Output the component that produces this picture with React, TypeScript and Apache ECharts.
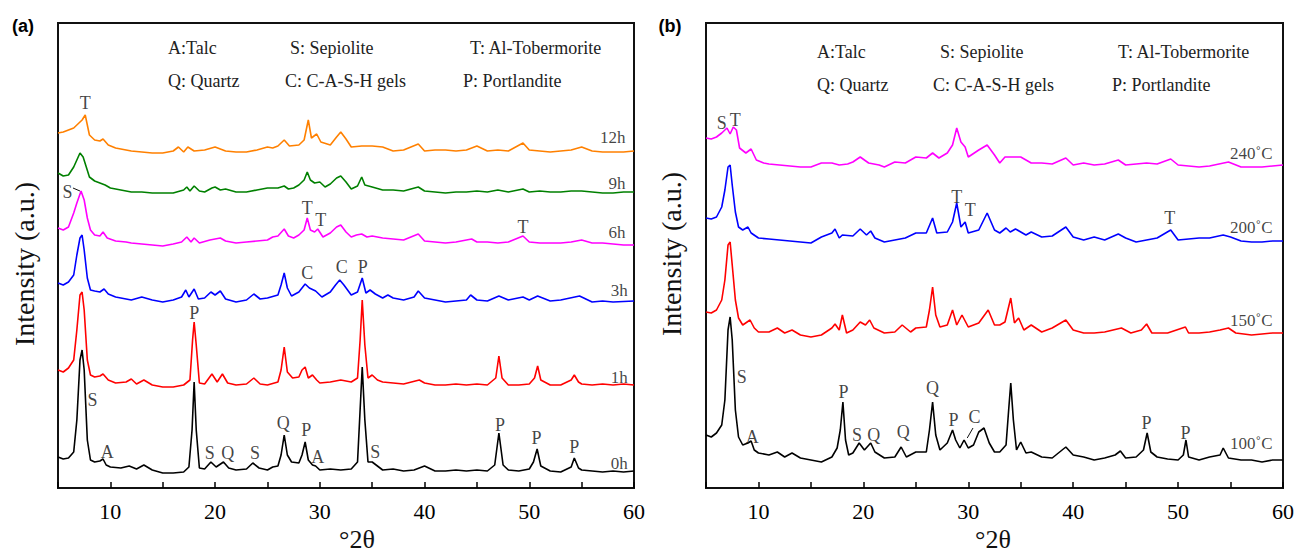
import React, { useEffect, useRef } from "react";
import * as echarts from "echarts";

// ---------- Panel (a): intensity (a.u., stacked with offsets) vs 2θ ----------
const A_0H: number[][] = [[5,31],[5.5,29],[6,30],[6.5,36],[6.8,68],[7.1,128],[7.3,138],[7.5,118],[7.8,48],[8.1,28],[8.5,26],[9,27],[9.3,29],[9.6,23],[10,21],[11,20],[11.8,22],[12.5,19],[13.2,23],[14,18],[15,15],[16,15],[17,16],[17.5,21],[17.8,58],[18,106],[18.2,58],[18.5,20],[19,19],[19.6,26],[20.1,21],[20.8,26],[21.3,20],[22,18],[23,19],[23.6,25],[24.2,20],[25,18],[25.5,21],[26,22],[26.3,33],[26.6,53],[26.9,33],[27.3,26],[28,25],[28.3,33],[28.6,46],[28.9,28],[29.3,23],[29.6,22],[30,18],[31,19],[32,18],[33,19],[33.6,26],[33.8,68],[34.05,121],[34.3,68],[34.6,26],[35,26],[35.5,22],[36,18],[37,19],[38,17],[39,18],[40,22],[41,17],[42,17],[43,18],[44,17],[45,18],[46,17],[46.7,23],[47.1,55],[47.5,23],[48,18],[49,17],[50,19],[50.4,26],[50.75,39],[51.1,22],[52,17],[53,16],[54,21],[54.3,30],[54.7,20],[55,18],[56,17],[57,16],[58,17],[59,16],[60,17]];
const A_1H: number[][] = [[5,118],[5.5,116],[6,120],[6.5,128],[6.8,158],[7.1,193],[7.3,196],[7.5,178],[7.8,128],[8.1,113],[8.5,111],[9,112],[9.3,114],[9.8,108],[10.5,105],[11.5,106],[12,109],[12.5,104],[13.2,108],[14,103],[15,101],[16,101],[17,103],[17.6,108],[17.85,148],[18,166],[18.2,143],[18.5,105],[19,104],[19.7,114],[20.2,106],[20.7,114],[21.2,105],[22,103],[23,104],[23.7,110],[24.3,104],[25,103],[26,106],[26.3,118],[26.6,141],[26.9,116],[27.4,110],[28,111],[28.3,118],[28.6,121],[28.9,110],[29.3,113],[29.7,108],[30,105],[31,106],[32,108],[33,106],[33.6,110],[33.85,148],[34.05,188],[34.3,143],[34.6,110],[35,113],[35.5,108],[36,106],[37,105],[38,104],[39.5,108],[40,105],[41,103],[42,103],[43,104],[44,103],[45,104],[46,103],[46.8,110],[47.1,132],[47.4,110],[48,103],[49,103],[50,104],[50.5,110],[50.8,122],[51.1,108],[52,103],[53,103],[54,108],[54.3,113],[54.7,106],[55,104],[56,103],[57,104],[58,103],[59,104],[60,103]];
const A_3H: number[][] = [[5,205],[5.5,203],[6,206],[6.5,213],[6.8,233],[7.1,250],[7.3,253],[7.5,238],[7.8,210],[8.1,198],[8.5,197],[9,196],[9.4,199],[9.8,194],[10.5,191],[11,190],[12,188],[13,191],[14,188],[15,186],[16,188],[16.8,191],[17.2,198],[17.5,191],[18,199],[18.4,189],[19,190],[19.6,196],[20,193],[20.5,197],[21,189],[22,186],[23,188],[23.7,194],[24.3,189],[25,190],[26,193],[26.3,203],[26.6,215],[26.9,200],[27.3,192],[28,196],[28.6,204],[29,200],[29.6,197],[30.2,191],[31,196],[31.5,203],[31.9,208],[32.3,203],[33,193],[33.6,196],[34.05,210],[34.4,195],[34.8,198],[35.3,194],[36,190],[36.5,193],[37,190],[38,188],[39,191],[39.4,197],[40,190],[41,188],[42,186],[43,187],[44,188],[44.4,193],[45,188],[46,187],[47.1,192],[48,188],[49.4,191],[50,188],[50.8,192],[52,187],[53,188],[54.8,192],[56,186],[57,187],[58,186],[60,187]];
const A_6H: number[][] = [[5,260],[5.5,258],[6,261],[6.5,275],[6.8,285],[7.2,297],[7.5,288],[7.8,270],[8.1,258],[8.5,253],[9,252],[9.3,256],[9.7,250],[10.5,247],[11.5,246],[12,245],[13,244],[14,243],[15,242],[16,244],[16.8,246],[17.3,251],[17.7,246],[18,250],[18.5,245],[19.5,248],[20,249],[20.5,250],[21,247],[22,245],[23,246],[24,247],[25,248],[25.5,251],[26,252],[26.6,259],[27,252],[27.5,250],[28,253],[28.5,258],[28.8,270],[29.1,258],[29.5,256],[29.8,259],[30.3,251],[31,255],[31.6,261],[32,263],[32.5,256],[33,251],[33.5,253],[34,254],[34.5,251],[35,252],[36,250],[37,249],[38,248],[39.4,254],[40,247],[41,246],[42,245],[43,246],[44.5,249],[45,246],[46,246],[47,245],[48,246],[49.4,252],[50,246],[51,245],[52,245],[53,245],[54,246],[55,248],[56,245],[57,245],[58,244],[59,243],[60,243]];
const A_9H: number[][] = [[5,315],[5.5,312],[6,313],[6.5,321],[6.8,328],[7.1,335],[7.4,331],[7.7,321],[8,311],[8.5,307],[9,305],[9.5,303],[10,300],[11,298],[12,296],[13,296],[14,295],[15,295],[16,295],[17,298],[17.3,301],[17.6,297],[18,302],[18.5,297],[19,296],[19.7,300],[20,301],[20.5,298],[21,299],[22,296],[23,296],[24,298],[25,300],[26,300],[26.6,302],[27,299],[27.5,300],[28,303],[28.5,308],[28.8,316],[29.1,308],[29.5,305],[30,306],[30.5,301],[31,304],[31.6,310],[32,312],[32.5,306],[33,299],[33.6,302],[34,311],[34.3,303],[35,301],[36,298],[37,298],[38,297],[39.4,301],[40,297],[41,296],[42,295],[43,296],[44,296],[45,297],[46,296],[47,298],[48,296],[49.4,299],[50,296],[51,297],[52,296],[53,296],[54,297],[55,297],[56,296],[57,295],[58,295],[59,296],[60,296]];
const A_12H: number[][] = [[5,355],[5.5,356],[6,358],[6.5,360],[7,365],[7.3,368],[7.6,373],[7.8,363],[8,353],[8.5,348],[9,347],[9.3,349],[9.8,343],[10.5,340],[11.5,338],[12,337],[13,336],[14,335],[15,335],[16,337],[16.5,341],[17,336],[17.4,341],[18,337],[19,338],[20,341],[21,337],[22,336],[23,336],[24,338],[25,341],[25.5,340],[26,342],[26.6,348],[27.1,342],[28,343],[28.5,348],[28.9,368],[29.2,350],[29.7,354],[30.1,346],[31,343],[31.6,351],[32,356],[32.5,349],[33,341],[34,342],[35,342],[36,341],[37,337],[38,338],[39.4,344],[40,337],[41,338],[42,338],[43,337],[44,338],[45,342],[46,337],[47,338],[48,337],[49.4,345],[50,338],[51,337],[52,336],[53,337],[54,338],[55,341],[56,337],[57,336],[58,336],[59,336],[60,337]];

// ---------- Panel (b) ----------
const B_100: number[][] = [[5,53],[5.5,51],[6,55],[6.5,63],[6.8,88],[7.1,158],[7.3,171],[7.5,148],[7.8,78],[8.1,51],[8.5,43],[9,45],[9.3,47],[9.6,38],[10,35],[11,33],[11.8,36],[12.5,31],[13.2,35],[14,30],[15,28],[16,26],[17,31],[17.5,40],[17.8,58],[18.05,86],[18.3,48],[18.6,33],[19,35],[19.6,45],[20.1,38],[20.7,45],[21.1,36],[22,30],[23,31],[23.6,41],[24.1,31],[25,36],[26,36],[26.3,58],[26.6,86],[26.9,53],[27.3,38],[28,45],[28.5,58],[28.8,48],[29.2,40],[29.6,48],[30,40],[30.5,43],[31,56],[31.5,60],[32,45],[32.5,36],[33,36],[33.6,43],[33.85,78],[34.05,105],[34.3,68],[34.6,38],[35,46],[35.5,35],[36,36],[37,31],[38,30],[39.3,41],[40,33],[41,31],[42,28],[43,30],[44,33],[44.5,37],[45,30],[46,31],[46.7,38],[47.05,55],[47.4,36],[48,31],[49,29],[50,28],[50.5,33],[50.75,48],[51,31],[52,28],[53,31],[54,33],[54.3,40],[54.8,30],[56,28],[57,28],[58,26],[59,28],[60,28]];
const B_150: number[][] = [[5,176],[5.5,175],[6,178],[6.5,188],[6.8,208],[7.1,243],[7.3,246],[7.5,223],[7.8,188],[8.1,170],[8.5,163],[9.2,168],[9.6,160],[10,156],[11,156],[11.8,160],[12.5,155],[13.2,158],[14,153],[15,151],[16,153],[17,160],[17.3,164],[17.7,158],[18,173],[18.4,155],[19,158],[19.7,166],[20.2,163],[20.6,168],[21,160],[22,155],[23,156],[23.7,163],[24.5,156],[25,160],[26,161],[26.3,178],[26.6,201],[26.9,173],[27.3,161],[28,163],[28.5,178],[28.9,163],[29.4,173],[30,161],[31,165],[31.9,178],[32.5,163],[33,163],[33.5,166],[34.05,190],[34.4,165],[34.8,170],[35.3,158],[36,163],[37,156],[38,160],[39.3,168],[40,158],[41,155],[42,155],[43,156],[44.6,160],[45.5,155],[46.5,158],[47,164],[47.5,155],[49,155],[50.7,161],[51,155],[52,155],[53,156],[54,158],[54.8,160],[55.5,155],[57,153],[58,154],[59,155],[60,155]];
const B_200: number[][] = [[5,270],[5.5,269],[6,271],[6.5,281],[6.8,298],[7.1,321],[7.3,323],[7.5,303],[7.8,276],[8.1,261],[8.5,258],[9,261],[9.3,255],[10,250],[11,249],[12,248],[13,247],[14,246],[15,245],[16,251],[17,255],[17.3,259],[17.7,250],[18,253],[19,252],[19.7,259],[20.3,253],[20.7,257],[21.1,250],[22,246],[23,248],[24,250],[25,255],[26,255],[26.6,270],[27,255],[28,256],[28.5,266],[28.9,285],[29.3,261],[29.7,266],[30,255],[31,258],[31.8,275],[32.5,258],[33,255],[33.6,260],[34,256],[34.5,259],[35.5,253],[36,256],[37,251],[38,252],[39.3,261],[40,251],[41,248],[42,251],[43,248],[44.3,254],[45,250],[46,246],[47,248],[48,250],[49.3,258],[50,248],[51,249],[52,250],[53,250],[54.3,253],[55,251],[56,247],[57,246],[58,246],[59,247],[60,247]];
const B_240: number[][] = [[5,350],[5.5,349],[6,351],[6.5,355],[7,360],[7.3,354],[7.6,361],[7.9,358],[8.2,340],[8.8,335],[9.3,339],[9.8,328],[10.5,325],[11,324],[12,323],[13,322],[14,321],[15,321],[16,325],[17,325],[17.7,323],[18.5,324],[19,326],[19.7,331],[20.5,325],[21.5,323],[22,321],[23,326],[24,325],[25,331],[26,330],[26.6,335],[27.2,330],[28,335],[28.5,343],[28.9,360],[29.3,346],[29.7,341],[30,331],[31,338],[31.8,343],[32.5,333],[33,325],[33.5,331],[34,331],[35,331],[36,325],[37,325],[38,324],[39.3,330],[40,323],[41,325],[42,323],[43,324],[44.3,328],[45,323],[46,324],[47,325],[48,324],[49.3,329],[50,323],[51,322],[52,321],[53,322],[54.8,326],[56,321],[57,321],[58,321],[59,322],[60,323]];

// annotations [2θ, height, text]
const A_PEAK_LABELS: (number | string)[][] = [
  [7.6, 385, "T"], [5.9, 296, "S"], [28.8, 280, "T"], [30.1, 268, "T"], [49.4, 261, "T"],
  [28.8, 215, "C"], [32.1, 221, "C"], [34.1, 221, "P"], [18.0, 175, "P"],
  [8.3, 88, "S"], [9.7, 36, "A"], [19.5, 35, "S"], [21.2, 35, "Q"], [23.8, 35, "S"],
  [26.5, 65, "Q"], [28.7, 58, "P"], [29.8, 31, "A"], [35.3, 36, "S"],
  [47.2, 63, "P"], [50.7, 50, "P"], [54.3, 41, "P"],
];
const A_SERIES_LABELS: (number | string)[][] = [
  [59.2, 351, "12h"], [59.2, 305, "9h"], [59.2, 256, "6h"], [59.4, 198, "3h"], [59.4, 111, "1h"], [59.4, 25, "0h"],
];
const B_PEAK_LABELS: (number | string)[][] = [
  [6.5, 365, "S"], [7.8, 368, "T"], [28.9, 291, "T"], [30.2, 278, "T"], [49.2, 270, "T"],
  [8.4, 111, "S"], [9.4, 51, "A"], [18.1, 96, "P"], [19.4, 53, "S"], [21.0, 53, "Q"],
  [23.8, 56, "Q"], [26.6, 100, "Q"], [28.6, 68, "P"], [30.6, 71, "C"], [47.0, 65, "P"], [50.7, 55, "P"],
];
const B_SERIES_LABELS: (number | string)[][] = [
  [59.0, 335, "240˚C"], [59.0, 261, "200˚C"], [59.0, 168, "150˚C"], [59.0, 45, "100˚C"],
];
const A_LEADER: number[][] = [[6.43, 300], [7.1, 297]];
const B_LEADER: number[][] = [[30.45, 60], [29.9, 50]];

const LEGEND_ROW1 = ["A:Talc", "S: Sepiolite", "T: Al-Tobermorite"];
const LEGEND_ROW2 = ["Q: Quartz", "C: C-A-S-H gels", "P: Portlandite"];

const SERIF = "'Liberation Serif', 'Times New Roman', serif";

export default function App() {
  const ref = useRef<HTMLDivElement>(null);
  useEffect(() => {
    document.body.style.margin = "0";
    const chart = echarts.init(ref.current!, undefined, { renderer: "svg" });

    const xAxis = (gridIndex: number) => ({
      type: "value", gridIndex, min: 5, max: 60, interval: 5,
      axisLine: { show: false },
      axisTick: { inside: true, length: 6, lineStyle: { color: "#000", width: 1.5 } },
      axisLabel: {
        formatter: (v: number) => (v % 10 === 0 ? String(v) : ""),
        fontFamily: SERIF, fontSize: 22, color: "#000", margin: 12,
      },
      splitLine: { show: false },
    });
    const yAxis = (gridIndex: number) => ({ type: "value", gridIndex, min: 0, max: 465, show: false });

    const line = (data: number[][], color: string, idx: number) => ({
      type: "line", data, xAxisIndex: idx, yAxisIndex: idx, showSymbol: false, symbol: "none",
      lineStyle: { color, width: 1.6 }, silent: true, z: 2,
    });
    const labels = (data: (number | string)[][], idx: number, align: string, fontSize: number) => ({
      type: "scatter", data, xAxisIndex: idx, yAxisIndex: idx, symbolSize: 1,
      itemStyle: { color: "rgba(0,0,0,0)" }, encode: { x: 0, y: 1 }, silent: true, z: 5,
      label: {
        show: true, position: "inside", align, verticalAlign: "middle",
        formatter: (p: any) => p.value[2], fontFamily: SERIF, fontSize, color: "#111",
      },
    });
    const leader = (data: number[][], idx: number) => ({
      type: "line", data, xAxisIndex: idx, yAxisIndex: idx, showSymbol: false, symbol: "none",
      lineStyle: { color: "#111", width: 1 }, silent: true, z: 4,
    });

    const legendTexts = (x1: number[], yRows: number[]) => {
      const out: any[] = [];
      [LEGEND_ROW1, LEGEND_ROW2].forEach((row, r) => {
        row.forEach((t, i) => {
          out.push({
            type: "text", x: x1[r * 3 + i], y: yRows[r],
            style: { text: t, fontFamily: SERIF, fontSize: 18, fill: "#222", align: "left", verticalAlign: "middle" },
          });
        });
      });
      return out;
    };

    chart.setOption({
      animation: false,
      backgroundColor: "#fff",
      grid: [
        { left: 58, top: 23, width: 576, height: 465, show: true, borderColor: "#111", borderWidth: 2, containLabel: false },
        { left: 706, top: 23, width: 577, height: 465, show: true, borderColor: "#111", borderWidth: 2, containLabel: false },
      ],
      xAxis: [xAxis(0), xAxis(1)],
      yAxis: [yAxis(0), yAxis(1)],
      series: [
        line(A_0H, "#000000", 0), line(A_1H, "#ff0000", 0), line(A_3H, "#0000ff", 0),
        line(A_6H, "#ff00ff", 0), line(A_9H, "#008000", 0), line(A_12H, "#ff8000", 0),
        line(B_100, "#000000", 1), line(B_150, "#ff0000", 1), line(B_200, "#0000ff", 1), line(B_240, "#ff00ff", 1),
        labels(A_PEAK_LABELS, 0, "center", 18), labels(A_SERIES_LABELS, 0, "right", 17),
        labels(B_PEAK_LABELS, 1, "center", 18), labels(B_SERIES_LABELS, 1, "right", 17),
        leader(A_LEADER, 0), leader(B_LEADER, 1),
      ],
      graphic: [
        { type: "text", x: 23, y: 26, style: { text: "(a)", fontFamily: "'Liberation Sans', Arial, sans-serif", fontWeight: "bold", fontSize: 18, fill: "#000", align: "center", verticalAlign: "middle" } },
        { type: "text", x: 670, y: 26, style: { text: "(b)", fontFamily: "'Liberation Sans', Arial, sans-serif", fontWeight: "bold", fontSize: 18, fill: "#000", align: "center", verticalAlign: "middle" } },
        { type: "text", x: 24, y: 264, rotation: Math.PI / 2, style: { text: "Intensity (a.u.)", fontFamily: SERIF, fontSize: 28, fill: "#111", align: "center", verticalAlign: "middle" } },
        { type: "text", x: 671, y: 254, rotation: Math.PI / 2, style: { text: "Intensity (a.u.)", fontFamily: SERIF, fontSize: 28, fill: "#111", align: "center", verticalAlign: "middle" } },
        { type: "text", x: 357, y: 539, style: { text: "°2θ", fontFamily: SERIF, fontSize: 26, fill: "#111", align: "center", verticalAlign: "middle" } },
        { type: "text", x: 993, y: 539, style: { text: "°2θ", fontFamily: SERIF, fontSize: 26, fill: "#111", align: "center", verticalAlign: "middle" } },
        ...legendTexts([168, 290, 470, 168, 285, 463], [48, 81]),
        ...legendTexts([817, 940, 1118, 817, 933, 1112], [52, 85]),
      ],
    });
    return () => chart.dispose();
  }, []);
  return <div ref={ref} style={{ width: 1298, height: 556 }} />;
}
